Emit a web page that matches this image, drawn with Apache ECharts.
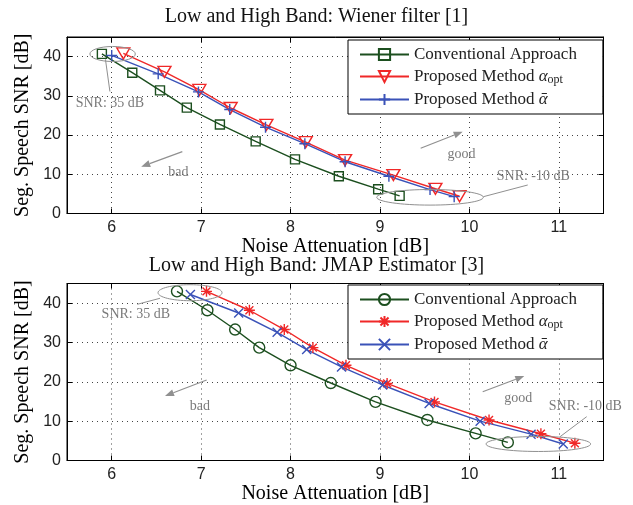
<!DOCTYPE html>
<html><head><meta charset="utf-8">
<script src="https://cdn.jsdelivr.net/npm/echarts@6.0.0/dist/echarts.min.js"></script>
<style>html,body{margin:0;padding:0;background:#fff}#c{width:633px;height:505px}</style>
</head><body><div id="c"></div>
<script>
// ---- data ----
const xTicks = [6, 7, 8, 9, 10, 11];
const yTicks = [0, 10, 20, 30, 40];
const xRange = [5.5, 11.5];
const yRange = [0, 45];
const titles = ['Low and High Band: Wiener filter [1]', 'Low and High Band: JMAP Estimator [3]'];
const xName = 'Noise Attenuation [dB]';
const yName = 'Seg. Speech SNR [dB]';
const legendNames = ['Conventional Approach', 'Proposed Method {a|α}{s|opt}', 'Proposed Method {a|ᾱ}'];

const wienerConv = [[5.89,40.7],[6.23,35.9],[6.54,31.4],[6.84,27.0],[7.21,22.7],[7.61,18.4],[8.05,13.8],[8.54,9.5],[8.98,6.2],[9.22,4.5]];
const wienerOpt  = [[6.13,40.8],[6.59,36.1],[6.98,31.5],[7.33,26.9],[7.73,22.6],[8.17,18.2],[8.61,13.6],[9.15,9.8],[9.62,6.3],[9.89,4.4]];
const wienerBar  = [[6.00,40.3],[6.52,35.6],[6.97,31.0],[7.32,26.5],[7.72,22.0],[8.16,17.8],[8.61,13.2],[9.10,9.5],[9.56,6.1],[9.83,4.3]];

const jmapConv = [[6.73,43.0],[7.07,38.2],[7.38,33.3],[7.65,28.7],[8.00,24.2],[8.45,19.7],[8.95,14.9],[9.53,10.3],[10.07,6.9],[10.43,4.6]];
const jmapOpt  = [[7.06,43.0],[7.54,38.2],[7.93,33.3],[8.25,28.7],[8.62,24.2],[9.08,19.6],[9.61,14.9],[10.22,10.3],[10.80,6.8],[11.18,4.4]];
const jmapBar  = [[6.88,42.2],[7.42,37.5],[7.85,32.6],[8.18,28.2],[8.57,23.8],[9.03,19.2],[9.55,14.5],[10.12,10.0],[10.69,6.7],[11.05,4.2]];

// annotations (data coordinates): ellipses, leader lines, arrows, texts
const annEllipses = [
  {g:0, c:[6.01,40.67], rx:22.7, ry:7.5},
  {g:0, c:[9.56,4.13], rx:53.3, ry:7.8},
  {g:1, c:[6.876,42.66], rx:32, ry:8},
  {g:1, c:[10.771,4.2], rx:52.3, ry:7.5}
];
const annLines = [
  {g:0, a:[5.93,39.3], b:[5.98,31.1]},
  {g:0, a:[10.156,4.28], b:[10.653,7.27]},
  {g:1, a:[6.54,41.24], b:[6.286,39.71]},
  {g:1, a:[11.014,6.05], b:[11.312,11.14]}
];
const annArrows = [
  {g:0, a:[6.79,15.76], b:[6.33,11.93]},
  {g:0, a:[9.455,16.62], b:[9.925,20.86]},
  {g:1, a:[7.062,20.47], b:[6.596,16.4]},
  {g:1, a:[10.149,17.49], b:[10.614,21.48]}
];
const annTexts = [
  {g:0, p:[5.98,28.2], t:'SNR: 35 dB'},
  {g:0, p:[6.745,10.4], t:'bad'},
  {g:0, p:[9.913,15.17], t:'good'},
  {g:0, p:[10.715,9.38], t:'SNR: -10 dB'},
  {g:1, p:[6.27,37.25], t:'SNR: 35 dB'},
  {g:1, p:[6.987,13.86], t:'bad'},
  {g:1, p:[10.547,15.81], t:'good'},
  {g:1, p:[11.297,13.68], t:'SNR: -10 dB'}
];

// ---- styles ----
const GREEN = '#1c4f1f', RED = '#f02828', BLUE = '#3a52b8';
const SERIF = 'Liberation Serif';
const SANS = 'Liberation Sans';
const SYM_PLUS = 'path://M0,-5L0,5M-5,0L5,0';
const SYM_X = 'path://M-5,-5L5,5M-5,5L5,-5';
const SYM_STAR = 'path://M0,-5L0,5M-5,0L5,0M-3.6,-3.6L3.6,3.6M-3.6,3.6L3.6,-3.6';

const grids = [
  {left:67, top:37, width:536.5, height:176.5},
  {left:67, top:283.5, width:536.5, height:177}
];

function mkSeries(name, data, g, color, symbol, size, rotate) {
  return {
    type:'line', name, data, xAxisIndex:g*2, yAxisIndex:g*2,
    symbol, symbolSize:size, symbolRotate: rotate||0, showAllSymbol:true,
    lineStyle:{color, width:1.4},
    itemStyle:{color:'rgba(0,0,0,0)', borderColor:color, borderWidth:1.4},
    emphasis:{disabled:true}, z:3
  };
}

const xAxes = [], yAxes = [];
for (let g = 0; g < 2; g++) {
  xAxes.push({
    type:'value', gridIndex:g, min:xRange[0], max:xRange[1], position:'bottom',
    name:xName, nameLocation:'middle', nameGap:21,
    nameTextStyle:{fontFamily:SERIF, fontSize:20, color:'#000'},
    axisLine:{show:true, onZero:false, lineStyle:{color:'#000', width:1}},
    axisTick:{show:true, inside:true, length:5, customValues:xTicks, lineStyle:{color:'#000'}},
    axisLabel:{show:true, customValues:xTicks, fontFamily:SANS, fontSize:16, color:'#222', margin:6},
    splitLine:{show:true, lineStyle:{color:'#444', type:[1,4], width:1}}
  });
  xAxes.push({
    type:'value', gridIndex:g, min:xRange[0], max:xRange[1], position:'top',
    axisLine:{show:true, onZero:false, lineStyle:{color:'#000', width:1}},
    axisTick:{show:true, inside:true, length:5, customValues:xTicks, lineStyle:{color:'#000'}},
    axisLabel:{show:false}, splitLine:{show:false}
  });
  yAxes.push({
    type:'value', gridIndex:g, min:yRange[0], max:yRange[1], position:'left',
    name:yName, nameLocation:'middle', nameGap:29,
    nameTextStyle:{fontFamily:SERIF, fontSize:20, color:'#000'},
    axisLine:{show:true, onZero:false, lineStyle:{color:'#000', width:1}},
    axisTick:{show:true, inside:true, length:5, customValues:yTicks, lineStyle:{color:'#000'}},
    axisLabel:{show:true, customValues:yTicks, fontFamily:SANS, fontSize:16, color:'#222', margin:6},
    splitLine:{show:true, lineStyle:{color:'#444', type:[1,4], width:1}}
  });
  yAxes.push({
    type:'value', gridIndex:g, min:yRange[0], max:yRange[1], position:'right',
    axisLine:{show:true, onZero:false, lineStyle:{color:'#000', width:1}},
    axisTick:{show:true, inside:true, length:5, customValues:yTicks, lineStyle:{color:'#000'}},
    axisLabel:{show:false}, splitLine:{show:false}
  });
}

const seriesNames = [['w0','w1','w2'],['j0','j1','j2']];
const nameMap = {w0:legendNames[0], w1:legendNames[1], w2:legendNames[2], j0:legendNames[0], j1:legendNames[1], j2:legendNames[2]};

const series = [
  mkSeries('w0', wienerConv, 0, GREEN, 'rect', 9),
  mkSeries('w1', wienerOpt, 0, RED, 'triangle', [13,11], 180),
  mkSeries('w2', wienerBar, 0, BLUE, SYM_PLUS, 11),
  mkSeries('j0', jmapConv, 1, GREEN, 'circle', 11),
  mkSeries('j1', jmapOpt, 1, RED, SYM_STAR, 11),
  mkSeries('j2', jmapBar, 1, BLUE, SYM_X, 9)
];

function mkLegend(g, top) {
  return {
    data: seriesNames[g], left:348, top, orient:'vertical',
    itemWidth:49, itemHeight:14, itemGap:5, padding:[6,26,6,11],
    borderColor:'#000', borderWidth:1, backgroundColor:'#fff',
    selectedMode:false, inactiveColor:'#000',
    formatter: n => nameMap[n],
    textStyle:{fontFamily:SERIF, fontSize:17, color:'#222',
      rich:{
        a:{fontFamily:SERIF, fontSize:17, fontStyle:'italic', color:'#222'},
        s:{fontFamily:SERIF, fontSize:12, color:'#222', verticalAlign:'bottom', padding:[7,0,0,0]}
      }}
  };
}

const chart = echarts.init(document.getElementById('c'), null, {renderer:'canvas'});
chart.setOption({
  animation:false,
  backgroundColor:'#fff',
  title:[
    {text:titles[0], left:'center', top:2, textStyle:{fontFamily:SERIF, fontSize:20, fontWeight:'normal', color:'#111'}},
    {text:titles[1], left:'center', top:251, textStyle:{fontFamily:SERIF, fontSize:20, fontWeight:'normal', color:'#111'}}
  ],
  grid: grids.map(g => Object.assign({show:true, borderColor:'#000', borderWidth:1, backgroundColor:'#fff', containLabel:false}, g)),
  xAxis:xAxes, yAxis:yAxes,
  legend:[mkLegend(0, 40), mkLegend(1, 285)],
  series
});

// annotations via library coordinate conversion
const GRAY = '#909090', TGRAY = '#7a7a7a';
const px = (g, p) => chart.convertToPixel({xAxisIndex:g*2, yAxisIndex:g*2}, p);
const graphic = [];
annEllipses.forEach(e => {
  const c = px(e.g, e.c);
  graphic.push({type:'ellipse', shape:{cx:c[0], cy:c[1], rx:e.rx, ry:e.ry}, style:{fill:'none', stroke:GRAY, lineWidth:1}, z:10, silent:true});
});
annLines.forEach(l => {
  const a = px(l.g, l.a), b = px(l.g, l.b);
  graphic.push({type:'line', shape:{x1:a[0], y1:a[1], x2:b[0], y2:b[1]}, style:{stroke:GRAY, lineWidth:1}, z:10, silent:true});
});
annArrows.forEach(l => {
  const a = px(l.g, l.a), b = px(l.g, l.b);
  const dx = b[0]-a[0], dy = b[1]-a[1], L = Math.hypot(dx, dy), ux = dx/L, uy = dy/L;
  const hl = 9, hw = 3.5;
  const bx = b[0]-ux*hl, by = b[1]-uy*hl;
  graphic.push({type:'line', shape:{x1:a[0], y1:a[1], x2:bx, y2:by}, style:{stroke:GRAY, lineWidth:1.2}, z:10, silent:true});
  graphic.push({type:'polygon', shape:{points:[[b[0],b[1]],[bx-uy*hw, by+ux*hw],[bx+uy*hw, by-ux*hw]]}, style:{fill:GRAY}, z:10, silent:true});
});
annTexts.forEach(t => {
  const p = px(t.g, t.p);
  graphic.push({type:'text', x:p[0], y:p[1], style:{text:t.t, fill:TGRAY, font:'14px "Liberation Serif"', textAlign:'center', textVerticalAlign:'middle'}, z:10, silent:true});
});
chart.setOption({graphic});
</script>
</body></html>
